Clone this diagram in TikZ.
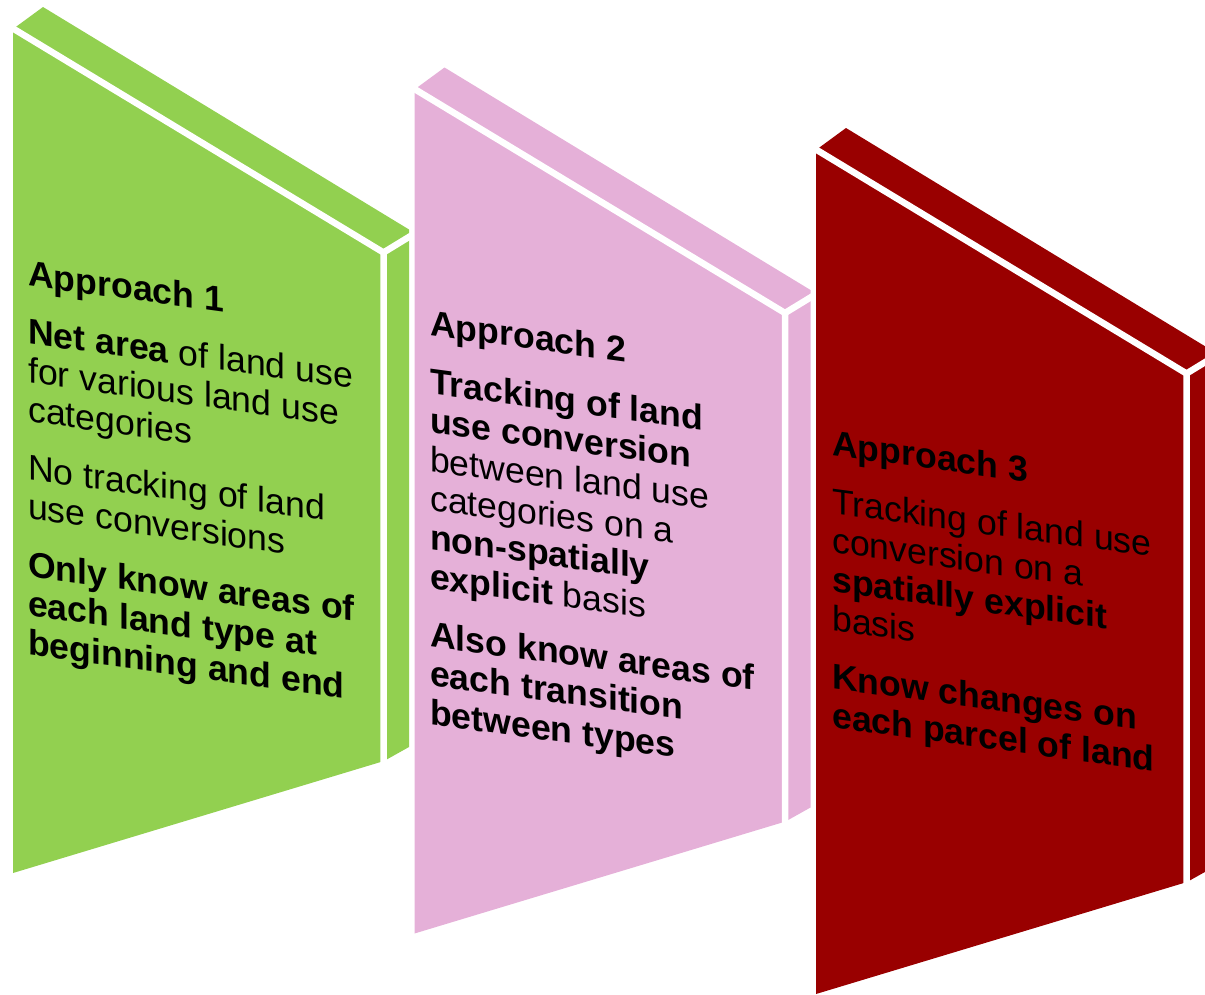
\documentclass[tikz,border=0pt]{standalone}
\usepackage{fontspec}
\setmainfont{Liberation Sans}
\definecolor{pgreen}{HTML}{92D050}
\definecolor{ppink}{HTML}{E5B0D8}
\definecolor{pred}{HTML}{990000}
\tikzset{
  edgeline/.style={white, line width=6.5pt},
  paneltext/.style={anchor=north west, inner sep=0pt, align=left, text=black,
    font=\fontsize{35.6}{39}\selectfont, transform shape},
}
\newcommand\mypanel[1]{%
  \fill[#1] (13,873) -- (13,29) -- (43,7) -- (409,229.5) -- (409,747) -- (384,761) -- cycle;
  \draw[edgeline] (11,27.3) -- (383.5,252.5) -- (383.5,775);
  \draw[edgeline] (383.5,252.5) -- (412,235.1);
}
\begin{document}
\begin{tikzpicture}[x=1pt, y=-1pt]
\useasboundingbox (0,0) rectangle (1205,994);
\clip (0,0) rectangle (1205,994);
% panel 1
\begin{scope}
  \mypanel{pgreen}
\end{scope}
\begin{scope}[shift={(28,259.5)}, yslant=-0.138]
  \node[paneltext] (t1) at (0,0) {%
    \textbf{Approach 1}\\[19pt]
    \textbf{Net area} of land use\\
    for various land use\\
    categories\\[19pt]
    No tracking of land\\
    use conversions\\[19pt]
    \textbf{Only know areas of}\\
    \textbf{each land type at}\\
    \textbf{beginning and end}};
\end{scope}
% panel 2
\begin{scope}[shift={(401.5,60.5)}]
  \mypanel{ppink}
\end{scope}
\begin{scope}[shift={(430,309.5)}, yslant=-0.135]
  \node[paneltext] (t2) at (0,0) {%
    \textbf{Approach 2}\\[19pt]
    \textbf{Tracking of land}\\
    \textbf{use conversion}\\
    between land use\\
    categories on a\\
    \textbf{non-spatially}\\
    \textbf{explicit} basis\\[19pt]
    \textbf{Also know areas of}\\
    \textbf{each transition}\\
    \textbf{between types}};
\end{scope}
% panel 3
\begin{scope}[shift={(803,121)}]
  \mypanel{pred}
\end{scope}
\begin{scope}[shift={(832,429.5)}, yslant=-0.135]
  \node[paneltext] (t3) at (0,0) {%
    \textbf{Approach 3}\\[19pt]
    Tracking of land use\\
    conversion on a\\
    \textbf{spatially explicit}\\
    basis\\[19pt]
    \textbf{Know changes on}\\
    \textbf{each parcel of land}};
\end{scope}
\end{tikzpicture}
\end{document}
